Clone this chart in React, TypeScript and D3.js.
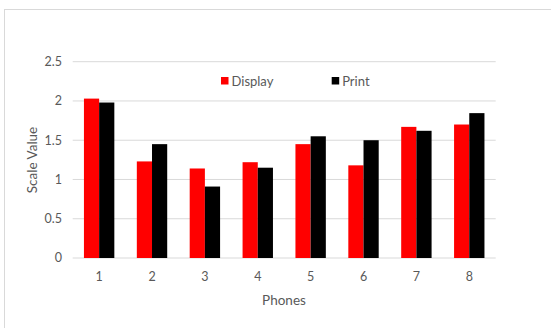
import React from "react";
import * as d3 from "d3";

const phones = ["1", "2", "3", "4", "5", "6", "7", "8"];
const displayValues = [2.03, 1.23, 1.14, 1.22, 1.45, 1.18, 1.67, 1.7];
const printValues = [1.98, 1.45, 0.91, 1.15, 1.55, 1.5, 1.62, 1.845];
const yTicks = [0, 0.5, 1, 1.5, 2, 2.5];
const seriesNames = ["Display", "Print"];
const seriesColors = ["#ff0000", "#000000"];

const W = 551;
const H = 328;
const FONT = "Lato, 'Open Sans', sans-serif";
const TEXT = "#595959";

export default function App() {
  const left = 72.7;
  const right = 495.7;
  const top = 61.7;
  const bottom = 258;

  const x = d3.scaleBand<string>().domain(phones).range([left, right]).paddingInner(0).paddingOuter(0);
  const y = d3.scaleLinear().domain([0, 2.5]).range([bottom, top]);
  const inner = d3
    .scaleBand<string>()
    .domain(seriesNames)
    .range([0, x.bandwidth()])
    .paddingInner(0)
    .paddingOuter(0.74);

  const values = [displayValues, printValues];

  return (
    <svg
      width={W}
      height={H}
      style={{ position: "fixed", left: 0, top: 0, background: "#fff" }}
      fontFamily={FONT}
    >
      <rect x={4.5} y={9.5} width={W} height={H} fill="#fff" stroke="#d9d9d9" />
      {yTicks.map((t) => (
        <g key={t}>
          <line x1={left} x2={right} y1={y(t)} y2={y(t)} stroke="#d9d9d9" strokeWidth={1} />
          <text x={62} y={y(t)} dy="0.35em" textAnchor="end" fontSize={12.5} fill={TEXT}>
            {t}
          </text>
        </g>
      ))}
      {phones.map((p, i) => (
        <g key={p}>
          {seriesNames.map((s, k) => (
            <rect
              key={s}
              x={(x(p) as number) + (inner(s) as number)}
              y={y(values[k][i])}
              width={inner.bandwidth()}
              height={y(0) - y(values[k][i])}
              fill={seriesColors[k]}
            />
          ))}
          <text
            x={(x(p) as number) + x.bandwidth() / 2}
            y={277}
            dy="0.35em"
            textAnchor="middle"
            fontSize={12.5}
            fill={TEXT}
          >
            {p}
          </text>
        </g>
      ))}
      <text x={284} y={300} dy="0.35em" textAnchor="middle" fontSize={13.5} fill={TEXT}>
        Phones
      </text>
      <text
        transform={`translate(32,160) rotate(-90)`}
        dy="0.35em"
        textAnchor="middle"
        fontSize={13.5}
        fill={TEXT}
      >
        Scale Value
      </text>
      {seriesNames.map((s, k) => {
        const lx = [221, 331.7][k];
        return (
          <g key={s}>
            <rect x={lx} y={77} width={7.5} height={7.5} fill={seriesColors[k]} />
            <text x={lx + 10.5} y={81} dy="0.35em" fontSize={13} fill={TEXT}>
              {s}
            </text>
          </g>
        );
      })}
    </svg>
  );
}
